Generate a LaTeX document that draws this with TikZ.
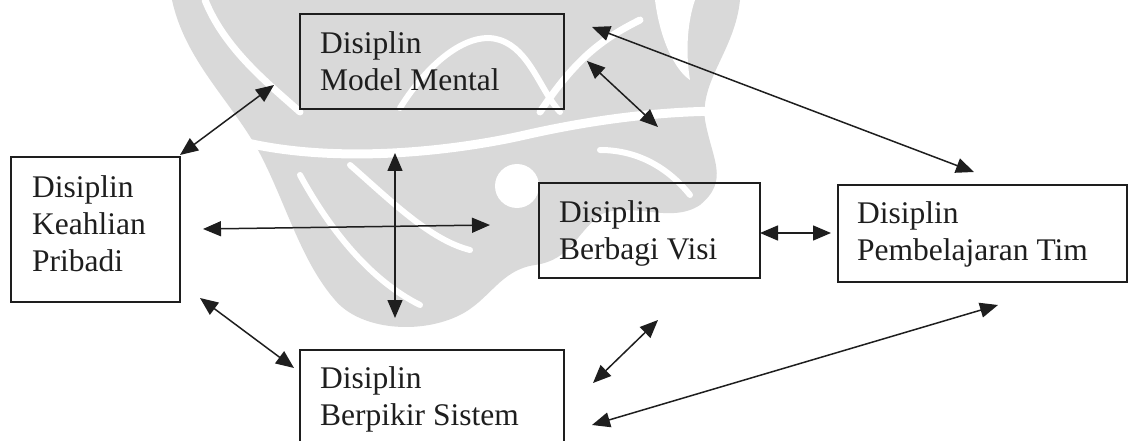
\documentclass[tikz,border=0pt]{standalone}
\usepackage{fontspec}
\setmainfont{Liberation Serif}
\usetikzlibrary{arrows.meta}
\definecolor{ink}{HTML}{1E1E1E}
\definecolor{mark}{HTML}{D9D9D9}
\begin{document}
\begin{tikzpicture}[x=1pt,y=-1pt,
  box/.style={draw=ink, line width=1.7pt, inner sep=0pt, anchor=north west},
  label/.style={inner sep=0pt, anchor=north west, align=left,
    font=\fontsize{31.5}{37}\selectfont, text=ink},
  conn/.style={draw=ink, line width=1.5pt,
    {Triangle[length=18pt,width=15pt]}-{Triangle[length=18pt,width=15pt]}},
  wm/.style={fill=mark},
  gap/.style={draw=white, line cap=round}]
\useasboundingbox (0,0) rectangle (1128,441);
\clip (0,0) rectangle (1128,441);

% background emblem
\fill[wm] (172,0) -- (740,0)
  .. controls (735,50) and (700,80) .. (705,120)
  .. controls (712,160) and (730,180) .. (700,205)
  .. controls (670,225) and (630,200) .. (600,215)
  .. controls (575,235) and (570,260) .. (535,265)
  .. controls (500,270) and (490,300) .. (460,315)
  .. controls (420,335) and (360,330) .. (335,300)
  .. controls (300,260) and (285,200) .. (258,150)
  .. controls (230,100) and (185,60) .. (172,0) -- cycle;
\draw[gap, line width=9pt] (235,140) .. controls (330,165) and (450,152) .. (525,135)
  .. controls (600,118) and (680,108) .. (760,112);
\draw[gap, line width=7pt] (205,0) .. controls (225,50) and (270,85) .. (300,112);
\draw[gap, line width=6pt] (400,108) .. controls (430,60) and (470,30) .. (500,40)
  .. controls (530,50) and (540,90) .. (560,112);
\draw[gap, line width=6pt] (300,175) .. controls (330,230) and (370,280) .. (420,305);
\draw[gap, line width=6pt] (350,165) .. controls (390,200) and (430,240) .. (470,250);
\draw[gap, line width=7pt] (540,112) .. controls (575,60) and (600,40) .. (640,20);
\draw[gap, line width=6pt] (600,150) .. controls (640,150) and (670,170) .. (690,195);
\fill[white] (517,186) circle (22);
\fill[white] (655,0) .. controls (660,40) and (675,70) .. (690,80)
  .. controls (685,50) and (688,20) .. (695,0) -- cycle;

% disciplines
\node[box, minimum width=264, minimum height=95]  (mm) at (299,13)  {};
\node[box, minimum width=169, minimum height=145] (kp) at (10,156)  {};
\node[box, minimum width=221, minimum height=95]  (bv) at (538,182) {};
\node[box, minimum width=289, minimum height=97]  (pt) at (837,184) {};
\node[box, minimum width=264, minimum height=120] (bs) at (299,349) {};

\node[label] (mmtext) at (320,31.5)  {Disiplin\\Model Mental};
\node[label] (kptext) at (32,175.2)  {Disiplin\\Keahlian\\Pribadi};
\node[label] (bvtext) at (559,200.2) {Disiplin\\Berbagi Visi};
\node[label] (pttext) at (857,201.5) {Disiplin\\Pembelajaran Tim};
\node[label] (bstext) at (320,366.8) {Disiplin\\Berpikir Sistem};

% free ends of the links
\coordinate (kp-mm-a) at (180,155);
\coordinate (kp-mm-b) at (274,85);
\coordinate (kp-bv-a) at (203,229);
\coordinate (kp-bv-b) at (490,225);
\coordinate (mm-bs-a) at (395,153);
\coordinate (mm-bs-b) at (395,318);
\coordinate (kp-bs-a) at (200,298);
\coordinate (kp-bs-b) at (294,368);
\coordinate (mm-bv-a) at (587,61);
\coordinate (mm-bv-b) at (658,127);
\coordinate (mm-pt-a) at (592,27);
\coordinate (mm-pt-b) at (974,172);
\coordinate (bv-pt-a) at (760,233);
\coordinate (bv-pt-b) at (831,233);
\coordinate (bs-bv-a) at (593,383);
\coordinate (bs-bv-b) at (658,320);
\coordinate (bs-pt-a) at (592,425);
\coordinate (bs-pt-b) at (998,305);

\draw[conn] (kp-mm-a) -- (kp-mm-b);
\draw[conn] (kp-bv-a) -- (kp-bv-b);
\draw[conn] (mm-bs-a) -- (mm-bs-b);
\draw[conn] (kp-bs-a) -- (kp-bs-b);
\draw[conn] (mm-bv-a) -- (mm-bv-b);
\draw[conn] (mm-pt-a) -- (mm-pt-b);
\draw[conn] (bv-pt-a) -- (bv-pt-b);
\draw[conn] (bs-bv-a) -- (bs-bv-b);
\draw[conn] (bs-pt-a) -- (bs-pt-b);
\end{tikzpicture}
\end{document}
